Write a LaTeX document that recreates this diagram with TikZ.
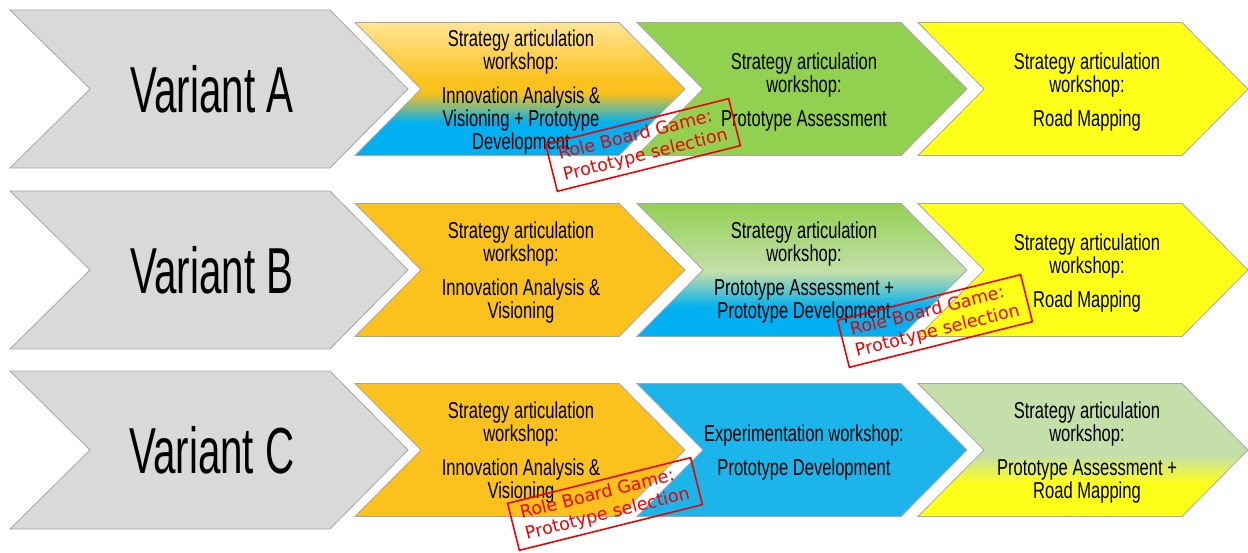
\documentclass[tikz,border=0pt]{standalone}
\usepackage{fontspec}
\setmainfont{Liberation Sans}[FakeStretch=0.72]
\newfontfamily\headfont{Liberation Sans}[FakeStretch=0.62]
\newfontfamily\stampfont{DejaVu Sans}

\definecolor{chevgrey}{HTML}{D9D9D9}
\definecolor{chevline}{HTML}{A6A6A6}
\definecolor{chevgold}{HTML}{FBC11C}
\definecolor{chevpale}{HTML}{FFE699}
\definecolor{chevsky}{HTML}{00B0F0}
\definecolor{chevblue}{HTML}{1BB5EB}
\definecolor{chevgreen}{HTML}{92D050}
\definecolor{chevmint}{HTML}{C4DFAA}
\definecolor{chevyellow}{HTML}{FFFF1A}
\definecolor{stampred}{HTML}{F00000}

% one workshop arrow, left edge #1, middle line #2
\newcommand{\chevpath}[2]{(#1, #2-66.5) -- ++(264, 0) -- ++(66, 66.5) -- ++(-66, 66.5) -- ++(-264, 0) -- ++(66, -66.5) -- cycle}

\begin{document}
\begin{tikzpicture}[x=1pt, y=-1pt,
    chev/.style={draw=chevline, line width=0.8pt},
    lbl/.style={align=center, yshift=-3pt, font=\fontsize{23}{23}\selectfont},
    stamp/.style={draw=stampred, line width=1.6pt, text=stampred, align=left,
      inner xsep=10pt, inner ysep=5pt, rotate=14,
      font=\stampfont\fontsize{17.5}{21.5}\selectfont}]
  \useasboundingbox (0, 0) rectangle (1248, 552);

  % variant heads
  \foreach \y/\v in {89/A, 270/B, 450/C} {
    \draw[chev, fill=chevgrey] (10, \y-79) -- (330, \y-79) -- (408, \y) -- (330, \y+79) -- (10, \y+79) -- (90, \y) -- cycle;
    \node[font=\headfont\fontsize{65}{65}\selectfont] (var\v) at (212, \y) {Variant \v};
  }

  % plain workshops
  \foreach \x/\y/\c in {637/89/chevgreen, 918/89/chevyellow, 355/270/chevgold, 918/270/chevyellow, 355/450/chevgold, 637/450/chevblue} {
    \draw[chev, fill=\c] \chevpath{\x}{\y};
  }

  % graded workshops
  \begin{scope}
    \clip \chevpath{355}{89};
    \shade[top color=chevpale, bottom color=chevgold] (355, 20) rectangle (686, 80.5);
    \fill[chevgold] (355, 80) rectangle (686, 93.5);
    \shade[top color=chevgold, bottom color=chevsky] (355, 93) rectangle (686, 122.5);
    \fill[chevsky] (355, 122) rectangle (686, 158);
  \end{scope}
  \draw[chev] \chevpath{355}{89};

  \begin{scope}
    \clip \chevpath{637}{270};
    \shade[top color=chevgreen, bottom color=chevmint] (637, 201) rectangle (968, 272.5);
    \shade[top color=chevmint, bottom color=chevsky] (637, 272) rectangle (968, 307.5);
    \fill[chevsky] (637, 307) rectangle (968, 339);
  \end{scope}
  \draw[chev] \chevpath{637}{270};

  \begin{scope}
    \clip \chevpath{918}{450};
    \fill[chevmint] (918, 380) rectangle (1249, 455.5);
    \shade[top color=chevmint, bottom color=chevyellow] (918, 455) rectangle (1249, 483.5);
    \fill[chevyellow] (918, 483) rectangle (1249, 520);
  \end{scope}
  \draw[chev] \chevpath{918}{450};

  % workshop texts
  \node[lbl] (a1) at (521, 89) {Strategy articulation\\workshop:\\[11pt]Innovation Analysis \&\\Visioning + Prototype\\Development};
  \node[lbl] (a2) at (804, 89) {Strategy articulation\\workshop:\\[11pt]Prototype Assessment};
  \node[lbl] (a3) at (1087, 89) {Strategy articulation\\workshop:\\[11pt]Road Mapping};
  \node[lbl] (b1) at (521, 270) {Strategy articulation\\workshop:\\[11pt]Innovation Analysis \&\\Visioning};
  \node[lbl] (b2) at (804, 270) {Strategy articulation\\workshop:\\[11pt]Prototype Assessment +\\Prototype Development};
  \node[lbl] (b3) at (1087, 270) {Strategy articulation\\workshop:\\[11pt]Road Mapping};
  \node[lbl] (c1) at (521, 450) {Strategy articulation\\workshop:\\[11pt]Innovation Analysis \&\\Visioning};
  \node[lbl] (c2) at (804, 450) {Experimentation workshop:\\[11pt]Prototype Development};
  \node[lbl] (c3) at (1087, 450) {Strategy articulation\\workshop:\\[11pt]Prototype Assessment +\\Road Mapping};

  % game stamps
  \node[stamp] (sa) at (643, 145) {Role Board Game:\\Prototype selection};
  \node[stamp] (sb) at (935, 321) {Role Board Game:\\Prototype selection};
  \node[stamp] (sc) at (605, 504) {Role Board Game:\\Prototype selection};
\end{tikzpicture}
\end{document}
